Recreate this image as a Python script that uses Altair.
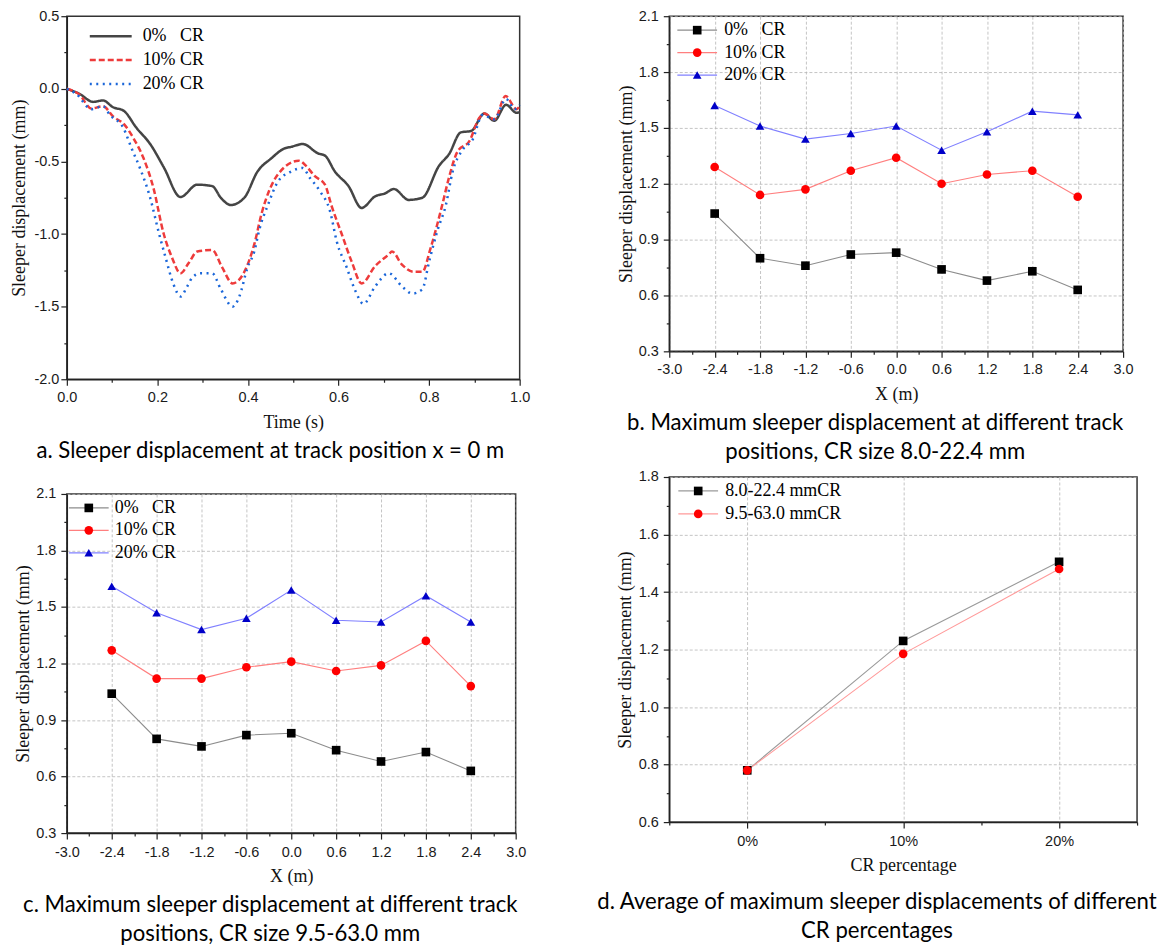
import altair as alt
import pandas as pd

# ---------------- data ----------------
# (a) sleeper displacement at x = 0 m versus time
a_series = ["0%\u00a0\u00a0\u00a0CR", "10% CR", "20% CR"]
a_t0 = [0.0, 0.028, 0.058, 0.080, 0.102, 0.125, 0.154, 0.184, 0.214, 0.251, 0.288, 0.321, 0.340,
        0.362, 0.392, 0.421, 0.451, 0.481, 0.495, 0.521, 0.555, 0.570, 0.592, 0.622, 0.651, 0.681,
        0.703, 0.722, 0.755, 0.785, 0.822, 0.844, 0.870, 0.893, 0.922, 0.944, 0.970, 0.993, 1.0]
a_v0 = [0.0, -0.035, -0.09, -0.08, -0.127, -0.15, -0.27, -0.38, -0.54, -0.745, -0.66, -0.67, -0.75,
        -0.80, -0.75, -0.57, -0.48, -0.41, -0.40, -0.38, -0.445, -0.46, -0.57, -0.67, -0.82, -0.74,
        -0.72, -0.69, -0.765, -0.75, -0.53, -0.45, -0.30, -0.29, -0.17, -0.22, -0.11, -0.165, -0.16]
a_t10 = [0.0, 0.028, 0.054, 0.080, 0.102, 0.128, 0.147, 0.169, 0.191, 0.214, 0.232, 0.251, 0.269,
         0.288, 0.321, 0.343, 0.366, 0.392, 0.414, 0.430, 0.466, 0.512, 0.529, 0.547, 0.570, 0.584,
         0.607, 0.629, 0.651, 0.681, 0.711, 0.718, 0.740, 0.766, 0.785, 0.803, 0.829, 0.844, 0.863,
         0.889, 0.911, 0.922, 0.944, 0.969, 0.993, 1.0]
a_v10 = [0.0, -0.04, -0.135, -0.12, -0.19, -0.25, -0.34, -0.475, -0.68, -1.0, -1.16, -1.27, -1.20,
         -1.12, -1.11, -1.23, -1.34, -1.26, -1.07, -0.86, -0.59, -0.495, -0.533, -0.60, -0.66, -0.80,
         -1.0, -1.19, -1.34, -1.22, -1.14, -1.12, -1.21, -1.26, -1.26, -1.10, -0.80, -0.61, -0.43,
         -0.36, -0.20, -0.17, -0.21, -0.05, -0.14, -0.12]
a_t20 = [0.0, 0.021, 0.054, 0.080, 0.095, 0.125, 0.143, 0.162, 0.184, 0.203, 0.217, 0.236, 0.251,
         0.266, 0.277, 0.295, 0.321, 0.340, 0.366, 0.381, 0.399, 0.414, 0.425, 0.444, 0.466, 0.495,
         0.521, 0.536, 0.559, 0.581, 0.596, 0.618, 0.637, 0.655, 0.681, 0.711, 0.740, 0.763, 0.785,
         0.800, 0.818, 0.837, 0.852, 0.874, 0.896, 0.918, 0.944, 0.970, 0.989, 1.0]
a_v20 = [0.0, -0.035, -0.14, -0.12, -0.18, -0.27, -0.41, -0.55, -0.75, -0.99, -1.15, -1.35, -1.43,
         -1.36, -1.30, -1.27, -1.27, -1.38, -1.50, -1.43, -1.23, -1.12, -0.97, -0.80, -0.64, -0.57,
         -0.545, -0.61, -0.705, -0.84, -1.05, -1.23, -1.39, -1.48, -1.36, -1.27, -1.36, -1.41, -1.38,
         -1.19, -0.98, -0.80, -0.57, -0.42, -0.35, -0.18, -0.21, -0.07, -0.14, -0.11]

# (b), (c) maximum sleeper displacement versus track position
track_x = [-2.4, -1.8, -1.2, -0.6, 0.0, 0.6, 1.2, 1.8, 2.4]
bc_series = ["0%\u00a0\u00a0\u00a0CR", "10% CR", "20% CR"]
b_cr0 = [1.04, 0.80, 0.76, 0.82, 0.83, 0.74, 0.68, 0.73, 0.63]
b_cr10 = [1.29, 1.14, 1.17, 1.27, 1.34, 1.20, 1.25, 1.27, 1.13]
b_cr20 = [1.62, 1.51, 1.44, 1.47, 1.51, 1.38, 1.48, 1.59, 1.57]
c_cr0 = [1.04, 0.80, 0.76, 0.82, 0.83, 0.74, 0.68, 0.73, 0.63]
c_cr10 = [1.27, 1.12, 1.12, 1.18, 1.21, 1.16, 1.19, 1.32, 1.08]
c_cr20 = [1.61, 1.47, 1.38, 1.44, 1.59, 1.43, 1.42, 1.56, 1.42]

# (d) average of maximum sleeper displacements
cr_pct = [0, 10, 20]
d_series = ["8.0-22.4 mmCR", "9.5-63.0 mmCR"]
d_size1 = [0.78, 1.23, 1.505]
d_size2 = [0.78, 1.185, 1.48]

# captions
cap_a = ["a. Sleeper displacement at track position x = 0 m"]
cap_b = ["b. Maximum sleeper displacement at different track", "positions, CR size 8.0-22.4 mm"]
cap_c = ["c. Maximum sleeper displacement at different track", "positions, CR size 9.5-63.0 mm"]
cap_d = ["d. Average of maximum sleeper displacements of different", "CR percentages"]

# ---------------- helpers ----------------
CAPTION_FONT = "Lato"
YTITLE = "Sleeper displacement (mm)"
NONPOS = ["color", "fill", "shape", "strokeDash"]


def signed(d):
    return "(datum.value < 0 ? '-' : '') + format(abs(datum.value), '.%df')" % d


def caption(lines, offset, dx=0):
    return alt.TitleParams(text=lines, orient="bottom", anchor="middle", frame="bounds",
                           offset=offset, dx=dx, font=CAPTION_FONT, fontSize=22.2, fontWeight="normal",
                           color="#000", lineHeight=28.5)


def minor_layer(df, xf, yf, xs, ys, xv, yv):
    return alt.Chart(df).mark_point(opacity=0, size=1).encode(
        x=alt.X(xf, scale=xs, axis=alt.Axis(orient="bottom", values=xv, labels=False, domain=False,
                                            grid=False, tickSize=3, title=None)),
        y=alt.Y(yf, scale=ys, axis=alt.Axis(orient="left", values=yv, labels=False, domain=False,
                                            grid=False, tickSize=3, title=None)),
    )


def independent(ch):
    return ch.resolve_scale(**{c: "independent" for c in NONPOS}).resolve_legend(
        **{c: "independent" for c in NONPOS})


# ---------------- panel a ----------------
rows = []
for s, ts, vs in zip(a_series, [a_t0, a_t10, a_t20], [a_v0, a_v10, a_v20]):
    for t, v in zip(ts, vs):
        rows.append({"t": t, "v": v, "s": s})
df_a = pd.DataFrame(rows)
xs_a = alt.Scale(domain=[0, 1], nice=False, zero=False)
ys_a = alt.Scale(domain=[-2, 0.5], nice=False, zero=False)
leg_a = alt.Legend(title=None, orient="none", legendX=35, legendY=11, symbolType="M-5.25,0H5.25",
                   symbolSize=64, symbolStrokeWidth=2.5, labelOffset=23, rowPadding=6, padding=0)
line_a = alt.Chart(df_a).mark_line(strokeWidth=2.5, interpolate="monotone").encode(
    x=alt.X("t:Q", scale=xs_a,
            axis=alt.Axis(orient="bottom", values=[0, 0.2, 0.4, 0.6, 0.8, 1.0], labelExpr=signed(1),
                          labelFlush=False, title="Time (s)", grid=False, tickSize=6, labelPadding=5,
                          titlePadding=10)),
    y=alt.Y("v:Q", scale=ys_a,
            axis=alt.Axis(orient="left", values=[-2, -1.5, -1, -0.5, 0, 0.5], labelExpr=signed(1),
                          labelFlush=False, title=YTITLE, grid=False, tickSize=6, labelPadding=2,
                          titlePadding=5)),
    color=alt.Color("s:N", scale=alt.Scale(domain=a_series, range=["#454545", "#ee3b3b", "#1a66d9"]),
                    legend=leg_a),
    strokeDash=alt.StrokeDash("s:N", scale=alt.Scale(domain=a_series, range=[[1, 0], [6, 3], [2, 4.5]]),
                              legend=leg_a),
)
minor_a = minor_layer(df_a, "t:Q", "v:Q", xs_a, ys_a, [0.1, 0.3, 0.5, 0.7, 0.9],
                      [-1.75, -1.25, -0.75, -0.25, 0.25])
panel_a = alt.layer(line_a, minor_a).resolve_axis(x="independent", y="independent").properties(
    width=454, height=364, title=caption(cap_a, 8))


# ---------------- panels b, c ----------------
def position_panel(v0, v10, v20, cap, legend_x, label_off, width, height, cap_offset, lab_pad, tit_pad):
    rows = []
    for s, vals in zip(bc_series, [v0, v10, v20]):
        for x, v in zip(track_x, vals):
            rows.append({"x": x, "v": v, "s": s, "sl": "line " + s})
    df = pd.DataFrame(rows)
    xs = alt.Scale(domain=[-3, 3], nice=False, zero=False)
    ys = alt.Scale(domain=[0.3, 2.1], nice=False, zero=False)
    common = dict(title=None, orient="none", legendX=legend_x, legendY=5, symbolSize=75,
                  labelOffset=label_off, rowPadding=4.5, padding=0)
    line = alt.Chart(df).mark_line(strokeWidth=1.1).encode(
        x=alt.X("x:Q", scale=xs,
                axis=alt.Axis(orient="bottom", values=[-3, -2.4, -1.8, -1.2, -0.6, 0, 0.6, 1.2, 1.8, 2.4, 3],
                              labelExpr=signed(1), labelFlush=False, title="X (m)", grid=True, tickSize=6,
                              labelPadding=lab_pad, titlePadding=tit_pad)),
        y=alt.Y("v:Q", scale=ys,
                axis=alt.Axis(orient="left", values=[0.3, 0.6, 0.9, 1.2, 1.5, 1.8, 2.1],
                              labelExpr=signed(1), labelFlush=False, title=YTITLE, grid=True, tickSize=6,
                              labelPadding=5, titlePadding=3)),
        color=alt.Color("sl:N", scale=alt.Scale(domain=["line " + s for s in bc_series],
                                                range=["#8c8c8c", "#ff7f7f", "#8080ff"]),
                        legend=alt.Legend(symbolType="M-4.6,0H4.6", symbolStrokeWidth=1.2,
                                          labelExpr="''", **common)),
    )
    pts = alt.Chart(df).mark_point(filled=True, size=75, opacity=1, strokeWidth=0).encode(
        x=alt.X("x:Q", scale=xs, axis=None),
        y=alt.Y("v:Q", scale=ys, axis=None),
        fill=alt.Fill("s:N", scale=alt.Scale(domain=bc_series, range=["#000000", "#ff0000", "#0000c8"]),
                      legend=alt.Legend(**common)),
        shape=alt.Shape("s:N", scale=alt.Scale(domain=bc_series, range=["square", "circle", "triangle-up"]),
                        legend=alt.Legend(**common)),
    )
    minor = minor_layer(df, "x:Q", "v:Q", xs, ys,
                        [-2.7, -2.1, -1.5, -0.9, -0.3, 0.3, 0.9, 1.5, 2.1, 2.7],
                        [0.45, 0.75, 1.05, 1.35, 1.65, 1.95])
    return alt.layer(line, pts, minor).resolve_axis(x="independent", y="independent").properties(
        width=width, height=height, title=caption(cap, cap_offset))


panel_b = position_panel(b_cr0, b_cr10, b_cr20, cap_b, 19, 18, 455, 336, 9, 5, 9.5)
panel_c = position_panel(c_cr0, c_cr10, c_cr20, cap_c, 13, 17, 450, 340, 9, 6, 9)

# ---------------- panel d ----------------
rows = []
for s, vals in zip(d_series, [d_size1, d_size2]):
    for p, v in zip(cr_pct, vals):
        rows.append({"p": p, "v": v, "s": s, "sl": "line " + s})
df_d = pd.DataFrame(rows)
xs_d = alt.Scale(domain=[-5, 25], nice=False, zero=False)
ys_d = alt.Scale(domain=[0.6, 1.8], nice=False, zero=False)
common_d = dict(title=None, orient="none", legendX=20, legendY=5, symbolSize=75,
                labelOffset=18, rowPadding=5, padding=0)
line_d = alt.Chart(df_d).mark_line(strokeWidth=1.1).encode(
    x=alt.X("p:Q", scale=xs_d,
            axis=alt.Axis(orient="bottom", values=[0, 10, 20], labelExpr="datum.value + '%'",
                          labelFlush=False, title="CR percentage", grid=True, tickSize=6, labelPadding=6,
                          titlePadding=9)),
    y=alt.Y("v:Q", scale=ys_d,
            axis=alt.Axis(orient="left", values=[0.6, 0.8, 1.0, 1.2, 1.4, 1.6, 1.8], labelExpr=signed(1),
                          labelFlush=False, title=YTITLE, grid=True, tickSize=6, labelPadding=5,
                          titlePadding=4)),
    color=alt.Color("sl:N", scale=alt.Scale(domain=["line " + s for s in d_series],
                                            range=["#9a9a9a", "#ff9a9a"]),
                    legend=alt.Legend(symbolType="M-4.6,0H4.6", symbolStrokeWidth=1.2, labelExpr="''",
                                      **common_d)),
)
pts_d = alt.Chart(df_d).mark_point(filled=True, size=75, opacity=1, strokeWidth=0).encode(
    x=alt.X("p:Q", scale=xs_d, axis=None),
    y=alt.Y("v:Q", scale=ys_d, axis=None),
    fill=alt.Fill("s:N", scale=alt.Scale(domain=d_series, range=["#000000", "#ff0000"]),
                  legend=alt.Legend(**common_d)),
    shape=alt.Shape("s:N", scale=alt.Scale(domain=d_series, range=["square", "circle"]),
                    legend=alt.Legend(**common_d)),
)
minor_d = minor_layer(df_d, "p:Q", "v:Q", xs_d, ys_d, [-5, 5, 15, 25],
                      [0.7, 0.9, 1.1, 1.3, 1.5, 1.7])
panel_d = alt.layer(line_d, pts_d, minor_d).resolve_axis(x="independent", y="independent").properties(
    width=469, height=346, title=caption(cap_d, 17))

# ---------------- layout ----------------
col1 = independent(alt.vconcat(panel_a, panel_c, spacing=22))
col2 = independent(alt.vconcat(panel_b, panel_d, spacing=4))
chart = independent(alt.hconcat(col1, col2, spacing=64)).properties(
    padding={"left": 2, "top": -2, "right": 0, "bottom": 0}
).configure_view(stroke="#333333", strokeWidth=1.5).configure_axis(
    labelFont="Liberation Sans", labelFontSize=14.5, labelColor="#1a1a1a",
    titleFont="Liberation Serif", titleFontSize=18, titleFontWeight="normal", titleColor="#111111",
    domainColor="#222222", domainWidth=1.4, tickColor="#222222", tickWidth=1.2,
    gridColor="#b5b5b5", gridDash=[3, 2], gridWidth=0.8,
).configure_legend(
    labelFont="Liberation Serif", labelFontSize=18, labelColor="#000000", labelLimit=300,
).configure_title(font=CAPTION_FONT)

chart.save("out.html", embed_options={"renderer": "svg", "actions": False})
